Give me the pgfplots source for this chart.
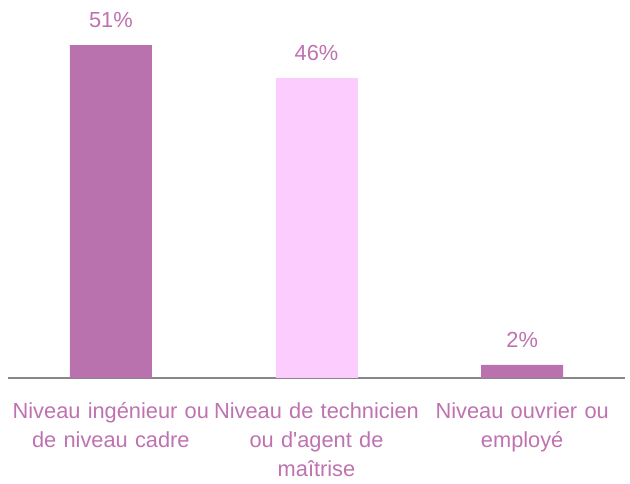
\documentclass[border=0pt]{standalone}
\usepackage{pgfplots}
\pgfplotsset{compat=1.18}
\usepackage{fontspec}
\setmainfont{Liberation Sans}
\definecolor{barA}{HTML}{BA72AE}
\definecolor{barB}{HTML}{FBCCFD}
\definecolor{txt}{HTML}{BE72B0}
\definecolor{axisgray}{HTML}{888888}

\begin{document}
\begin{tikzpicture}[x=1bp,y=1bp]
\begin{axis}[
    at={(0,0)}, anchor=south west,
    scale only axis,
    width=617bp, height=359bp,
    xmin=-0.5, xmax=2.5,
    ymin=0, ymax=55,
    axis x line*=bottom,
    axis y line=none,
    x axis line style={axisgray, line width=1.6bp, -},
    xtick={0,1,2},
    xticklabels={Niveau ingénieur ou\\de niveau cadre,
                 Niveau de technicien\\ou d\textquotesingle agent de\\maîtrise,
                 Niveau ouvrier ou\\employé},
    major tick length=0pt,
    xticklabel style={font=\fontsize{21.8bp}{29bp}\selectfont, text=txt,
                      align=center, text width=210bp, yshift=-21bp},
    ybar, bar width=82bp, bar shift=0pt,
    /pgf/number format/assume math mode=true,
    nodes near coords={\pgfmathprintnumber{\pgfplotspointmeta}\%},
    every node near coord/.append style={font=\fontsize{21.8bp}{26bp}\selectfont,
                      text=txt, yshift=14bp},
]
\addplot[fill=barA, draw=none] coordinates {(0,51) (2,2)};
\addplot[fill=barB, draw=none] coordinates {(1,46)};
\end{axis}
\pgfresetboundingbox
\path (-8bp,-106bp) rectangle (622bp,378bp);
\end{tikzpicture}
\end{document}
